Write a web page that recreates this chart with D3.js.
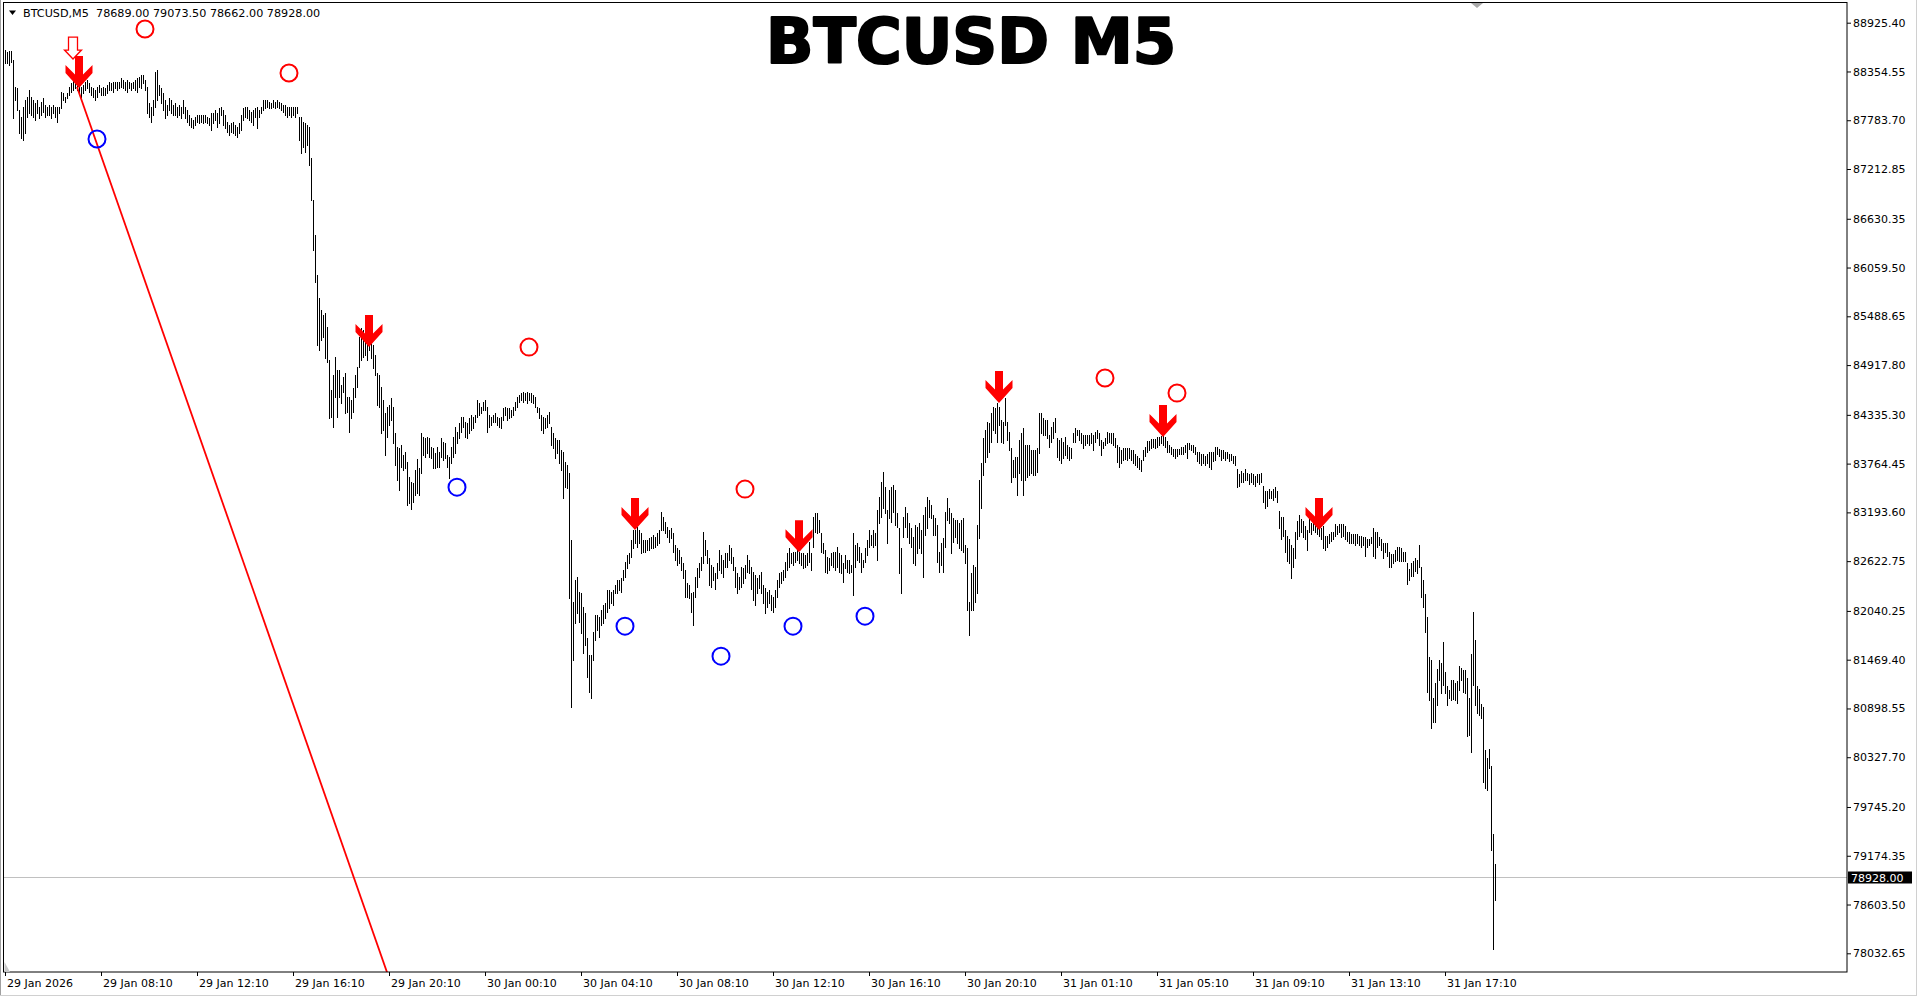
<!DOCTYPE html>
<html><head><meta charset="utf-8">
<script src="https://cdn.jsdelivr.net/npm/d3@7"></script>
<style>
html,body{margin:0;padding:0;background:#fff;overflow:hidden}
svg{display:block}
text{font-family:"DejaVu Sans",sans-serif}
</style></head><body>
<svg id="c" width="1919" height="997"></svg>
<script>
// ---- DATA ----
const symbol = "BTCUSD,M5";
const titleText = "BTCUSD M5";
const lastOHLC = ["78689.00", "79073.50", "78662.00", "78928.00"];
const lastClose = 78928.00;

const highs = [
88606,88583,88594,88594,88489,88173,88161,87903,87821,87938,
88020,88055,88137,88055,88020,87985,88020,87938,87997,88044,
87962,87938,87962,87938,87962,87938,87938,87938,88114,88102,
88055,88102,88173,88219,88255,88231,88231,88196,88173,88196,
88231,88255,88219,88173,88161,88137,88173,88196,88161,88173,
88161,88196,88231,88219,88231,88231,88231,88231,88278,88255,
88231,88255,88231,88219,88231,88255,88278,88290,88313,88313,
88255,88173,87985,87938,88020,88348,88372,88196,88161,88102,
88020,87962,88044,88020,87962,87985,87938,87962,87938,88020,
87938,87903,87844,87809,87786,87821,87844,87844,87844,87844,
87844,87821,87809,87868,87868,87903,87868,87926,87938,87903,
87844,87763,87727,87751,87763,87727,87704,87751,87844,87926,
87938,87938,87903,87880,87903,87926,87938,87903,87938,88020,
88020,88020,87997,87985,88020,87997,88020,87997,87985,87962,
87962,87938,87938,87938,87938,87938,87938,87821,87821,87763,
87751,87727,87704,87341,86850,86440,85971,85702,85562,85503,
85527,85363,84976,84625,84800,85011,84859,84859,84683,84777,
84824,84543,84543,84508,84648,84800,84894,85246,85351,85328,
85246,85363,85503,85210,85152,85035,84824,84800,84660,84508,
84356,84426,84450,84531,84426,84122,83958,83946,83981,83864,
83899,83782,83606,83548,83536,83688,83817,83712,84122,84075,
84063,84075,84063,83958,83946,83888,83958,83899,84063,84016,
84005,83864,83841,83958,84075,84192,84133,84239,84309,84309,
84250,84239,84297,84332,84309,84332,84508,84473,84426,84485,
84508,84426,84332,84309,84332,84356,84309,84297,84309,84414,
84426,84414,84414,84391,84426,84485,84543,84567,84590,84602,
84590,84602,84590,84590,84567,84543,84426,84414,84332,84309,
84297,84332,84368,84192,84122,84063,84040,84040,83923,83899,
83782,83747,83653,82869,82143,82401,82436,82260,82248,82084,
82014,81722,81522,81522,81792,81991,81991,81967,82049,82108,
82131,82283,82283,82260,82283,82342,82401,82401,82424,82518,
82611,82693,82717,82869,82986,82986,83021,82986,82951,82869,
82869,82869,82892,82904,82927,82904,82951,82986,83197,83138,
83080,83021,82986,83009,82951,82810,82775,82752,82670,82600,
82518,82366,82342,82248,82260,82436,82541,82600,82670,82963,
82869,82752,82658,82576,82553,82483,82600,82752,82693,82635,
82717,82717,82810,82775,82670,82553,82483,82436,82553,82541,
82576,82693,82635,82553,82494,82459,82424,82459,82494,82342,
82307,82260,82283,82225,82201,82283,82401,82483,82494,82518,
82611,82717,82775,82717,82728,82728,82752,82728,82717,82717,
82693,82717,82846,82717,83138,83185,83185,83103,82951,82834,
82752,82670,82658,82717,82728,82728,82787,82717,82693,82600,
82693,82635,82635,82576,82951,82810,82834,82787,82717,82635,
82775,82869,82986,82927,82986,82951,83220,83372,83548,83665,
83489,83220,83454,83489,83513,83454,83185,83009,82775,83138,
83255,83185,83068,83009,82904,83045,83021,83068,82986,83162,
83255,83372,83337,83279,83162,83127,83045,82728,82834,82892,
83197,83361,83244,83185,83127,83103,83103,83068,83103,83127,
82810,82775,82143,82483,82576,82553,83045,83571,83770,84063,
84157,84250,84239,84356,84426,84414,84473,84426,84274,84250,
84531,84250,84133,83946,83805,83841,83841,84040,84122,84180,
83981,83981,83981,83923,83923,83923,83946,84356,84356,84297,
84274,84274,84098,84192,84250,84297,84063,84040,84063,84016,
84075,83981,83958,83946,84122,84180,84157,84157,84122,84098,
84098,84098,84098,84122,84098,84133,84157,84122,84040,84016,
84063,84133,84122,84122,84122,84063,83981,83958,83923,83946,
83946,83946,83946,83923,83923,83876,83852,83829,83805,83923,
83958,84028,84028,84052,84052,84052,84075,84075,84087,84087,
84075,84028,83981,83958,83935,83935,83935,83935,83958,83958,
83981,84005,84005,83981,83981,83958,83899,83899,83876,83876,
83852,83876,83899,83899,83899,83958,83958,83935,83923,83923,
83899,83899,83876,83876,83852,83852,83700,83642,83677,83653,
83700,83653,83642,83653,83642,83618,83642,83642,83653,83501,
83443,83443,83466,83443,83466,83489,83443,83209,83138,83138,
82986,82916,82881,82810,82775,82963,83092,83162,83115,83092,
83033,82986,83115,83068,83092,83068,83033,83033,83009,83033,
82916,82916,82939,82963,82963,83056,83033,83056,83056,83056,
83033,82963,82963,82939,82939,82939,82939,82916,82916,82904,
82904,82881,82881,82904,83009,82963,82963,82904,82881,82834,
82834,82834,82728,82705,82705,82752,82787,82787,82775,82728,
82728,82600,82529,82600,82623,82658,82635,82810,82553,82401,
82236,81967,81499,81464,81019,81195,81359,81464,81429,81675,
81323,81160,81113,81230,81230,81195,81218,81394,81371,81347,
81347,81253,81019,81534,82026,81698,81160,81125,80949,80914,
80410,80317,80422,80223,79427,79073.5
];

const lows = [
88454,88454,88430,88466,87809,88020,87903,87634,87575,87552,
87634,87821,87868,87844,87821,87786,87868,87809,87844,87880,
87821,87844,87844,87809,87868,87821,87763,87868,87926,88020,
87997,88044,88079,88114,88137,88161,88137,88102,88055,88102,
88137,88161,88114,88079,88055,88020,88055,88114,88079,88079,
88079,88102,88137,88137,88114,88161,88137,88161,88173,88161,
88137,88114,88161,88137,88161,88137,88114,88173,88161,88219,
88137,87868,87821,87763,87844,87938,88020,88079,87985,87903,
87809,87844,87903,87868,87844,87844,87821,87844,87809,87868,
87809,87763,87727,87704,87692,87727,87763,87751,87763,87751,
87763,87751,87727,87669,87751,87786,87704,87751,87844,87727,
87692,87646,87610,87646,87634,87610,87587,87634,87669,87786,
87821,87809,87786,87763,87727,87821,87692,87821,87868,87903,
87926,87938,87926,87926,87938,87926,87938,87926,87903,87880,
87844,87821,87844,87821,87844,87821,87868,87552,87400,87470,
87412,87494,87259,86850,86264,85890,85152,85093,85210,85246,
84999,84953,84297,84309,84192,84543,84309,84543,84473,84602,
84356,84368,84133,84297,84368,84543,84660,84894,84976,85011,
85035,84976,85093,84999,84882,84800,84450,84426,84122,84157,
83864,84075,84215,84274,84005,83747,83571,83454,83723,83688,
83712,83279,83302,83232,83314,83396,83419,83396,83653,83864,
83841,83888,83841,83829,83712,83712,83723,83723,83841,83805,
83829,83723,83595,83770,83841,83888,84005,84063,84133,84192,
84075,84063,84122,84157,84180,84250,84309,84332,84356,84391,
84391,84133,84192,84215,84250,84250,84215,84192,84180,84274,
84332,84274,84297,84309,84332,84391,84426,84485,84508,84485,
84508,84473,84508,84485,84473,84426,84368,84297,84157,84122,
84180,84192,84239,83981,83946,83829,83888,83770,83688,83361,
83489,83478,82190,80914,81464,81897,82014,81909,81780,81546,
81640,81265,81089,81019,81464,81698,81815,81733,81874,81897,
81956,82026,82073,82131,82108,82248,82248,82283,82260,82401,
82436,82541,82600,82670,82775,82834,82787,82834,82717,82728,
82728,82752,82752,82775,82775,82787,82810,82834,82986,82986,
82951,82904,82846,82892,82728,82635,82576,82600,82518,82424,
82201,82201,82190,82026,81874,82201,82319,82436,82518,82600,
82693,82600,82342,82319,82401,82295,82424,82518,82483,82436,
82553,82553,82635,82600,82518,82319,82248,82295,82319,82366,
82424,82494,82483,82295,82166,82108,82248,82307,82248,82131,
82014,82084,82131,82049,82026,82084,82201,82319,82365,82401,
82436,82518,82553,82600,82576,82611,82635,82600,82576,82541,
82553,82576,82611,82518,82787,82963,82951,82963,82728,82717,
82494,82483,82518,82576,82553,82518,82553,82494,82483,82377,
82541,82494,82483,82494,82225,82553,82635,82611,82494,82553,
82611,82693,82787,82810,82787,82810,82635,83068,83138,83244,
83185,82834,83127,83080,83197,83045,83021,82483,82248,82904,
83021,82904,82834,82787,82600,82576,82717,82775,82717,82436,
82927,83009,83138,83127,82927,82927,82611,82494,82576,82494,
82787,83103,83068,82717,82846,82904,82834,82775,82752,82728,
82600,82049,81757,82049,82049,82143,82248,82892,83244,83630,
83782,83841,83899,84016,84157,84122,84016,84215,84016,84005,
84215,84040,83923,83548,83606,83606,83396,83653,83571,83396,
83571,83606,83630,83653,83630,83630,83665,83888,84122,84098,
84098,84063,83958,84016,84063,84133,83841,83805,83770,83829,
83864,83829,83805,83829,84016,84016,84098,84040,84005,83946,
83981,84005,83981,84005,83923,84016,84063,83981,83864,83946,
83981,84005,84016,84005,83981,83958,83782,83723,83770,83805,
83817,83805,83829,83805,83770,83747,83723,83700,83677,83805,
83852,83899,83923,83946,83958,83946,83958,83981,84005,83981,
83958,83899,83899,83876,83852,83829,83852,83876,83876,83876,
83899,83829,83935,83923,83899,83876,83794,83770,83747,83770,
83747,83770,83723,83700,83794,83805,83876,83852,83805,83829,
83805,83829,83794,83805,83770,83747,83489,83501,83548,83548,
83571,83571,83524,83548,83524,83501,83548,83524,83548,83314,
83244,83267,83361,83361,83337,83372,83314,83009,82881,82916,
82728,82623,82600,82424,82553,82658,82881,82916,82963,82904,
82881,82752,82963,82939,82986,82963,82939,82916,82881,82775,
82752,82787,82834,82857,82881,82916,82939,82963,82904,82916,
82881,82857,82834,82834,82834,82810,82834,82810,82787,82810,
82682,82787,82810,82834,82682,82658,82787,82810,82752,82658,
82728,82682,82553,82553,82600,82623,82635,82623,82623,82623,
82623,82354,82401,82447,82447,82506,82483,82553,82201,82084,
81792,81089,80996,80668,80738,80738,80937,81230,81078,81171,
81078,80937,81019,80996,81007,80996,80960,81113,81230,81089,
81078,80574,80586,80387,81171,80937,80843,80820,80785,80036,
79966,79942,80199,79239,78080,78662
];

const priceLabels = ["88925.40","88354.55","87783.70","87212.85","86630.35","86059.50",
  "85488.65","84917.80","84335.30","83764.45","83193.60","82622.75","82040.25","81469.40",
  "80898.55","80327.70","79745.20","79174.35","78603.50","78032.65"];
const dateLabels = ["29 Jan 2026","29 Jan 08:10","29 Jan 12:10","29 Jan 16:10","29 Jan 20:10",
  "30 Jan 00:10","30 Jan 04:10","30 Jan 08:10","30 Jan 12:10","30 Jan 16:10","30 Jan 20:10",
  "31 Jan 01:10","31 Jan 05:10","31 Jan 09:10","31 Jan 13:10","31 Jan 17:10"];
const barsPerDateLabel = 48;

// signals: bar index + price
const sellArrowBar   = [37, 182, 315, 397, 497, 579, 657];
const sellArrowPrice = [88161, 85128, 82986, 82728, 84473, 84075, 82986];
const hollowArrowBar = [34];
const hollowArrowPrice = [88500];
const redCircleBar   = [70, 142, 262, 370, 550, 586];
const redCirclePrice = [88852, 88337, 85128, 83466, 84766, 84590];
const blueCircleBar  = [46, 226, 310, 358, 394, 430];
const blueCirclePrice= [87564, 83489, 81862, 81511, 81862, 81979];
const trendBars   = [36, 191];
const trendPrices = [88173, 77811];

// ---- LAYOUT ----
const W = 1919, H = 997;
const plot = {left: 4, top: 2.5, right: 1847, bottom: 972};
const svg = d3.select("#c");

const x = d3.scaleLinear().domain([0, highs.length - 1]).range([5, 5 + 2 * (highs.length - 1)]);
const y = d3.scaleLinear().domain([78032.65, 88925.40]).range([953.3, 22.7]);

// window frame (light gray)
svg.append("rect").attr("x", 0).attr("y", 0).attr("width", W).attr("height", H).attr("fill", "#fff");
svg.append("line").attr("x1", 0.5).attr("x2", 0.5).attr("y1", 0).attr("y2", 995).attr("stroke", "#a0a0a0");
svg.append("line").attr("x1", 0).attr("x2", 1917).attr("y1", 995.5).attr("y2", 995.5).attr("stroke", "#d0d0d0");
svg.append("line").attr("x1", 1916.5).attr("x2", 1916.5).attr("y1", 0).attr("y2", 996).attr("stroke", "#d0d0d0");

svg.append("defs").append("clipPath").attr("id", "clip").append("rect")
  .attr("x", plot.left).attr("y", plot.top).attr("width", plot.right - plot.left).attr("height", plot.bottom - plot.top);

// current price line
svg.append("line").attr("x1", plot.left).attr("x2", plot.right)
  .attr("y1", Math.round(y(lastClose)) + 0.5).attr("y2", Math.round(y(lastClose)) + 0.5)
  .attr("stroke", "#c0c0c0").attr("stroke-width", 1);

// bars
const g = svg.append("g").attr("clip-path", "url(#clip)");
const bars = highs.map((h, i) => ({i, h, l: lows[i]}));
g.append("g").selectAll("line").data(bars).join("line")
  .attr("x1", d => x(d.i) + 0.5).attr("x2", d => x(d.i) + 0.5)
  .attr("y1", d => Math.round(y(d.h))).attr("y2", d => Math.round(y(d.l)) + 1)
  .attr("stroke", "#000").attr("stroke-width", 1).attr("shape-rendering", "crispEdges");

// trend line
g.append("line")
  .attr("x1", x(trendBars[0])).attr("y1", y(trendPrices[0]))
  .attr("x2", x(trendBars[1])).attr("y2", y(trendPrices[1]))
  .attr("stroke", "#ff0000").attr("stroke-width", 1.8);

// circles
g.append("g").selectAll("circle").data(redCircleBar).join("circle")
  .attr("cx", (d, i) => x(d)).attr("cy", (d, i) => y(redCirclePrice[i])).attr("r", 8.5)
  .attr("fill", "none").attr("stroke", "#ff0000").attr("stroke-width", 2);
g.append("g").selectAll("circle").data(blueCircleBar).join("circle")
  .attr("cx", (d, i) => x(d)).attr("cy", (d, i) => y(blueCirclePrice[i])).attr("r", 8.5)
  .attr("fill", "none").attr("stroke", "#0000ff").attr("stroke-width", 2);

// solid sell arrows (tip at price)
function solidArrow(cx, ty) {
  const p = [[0,0],[13.5,-15],[13.5,-23],[4,-13.5],[4,-32],[-4,-32],[-4,-13.5],[-13.5,-23],[-13.5,-15]];
  return "M" + p.map(q => (cx + q[0]) + "," + (ty + q[1])).join("L") + "Z";
}
function hollowArrow(cx, ty) {
  const p = [[0,0],[8.5,-9],[4.5,-9],[4.5,-22],[-4.5,-22],[-4.5,-9],[-8.5,-9]];
  return "M" + p.map(q => (cx + q[0]) + "," + (ty + q[1])).join("L") + "Z";
}
g.append("g").selectAll("path").data(sellArrowBar).join("path")
  .attr("d", (d, i) => solidArrow(x(d), y(sellArrowPrice[i])))
  .attr("fill", "#ff0000");
g.append("g").selectAll("path").data(hollowArrowBar).join("path")
  .attr("d", (d, i) => hollowArrow(x(d), y(hollowArrowPrice[i])))
  .attr("fill", "#fff").attr("stroke", "#ff0000").attr("stroke-width", 1.3);

// frame
svg.append("rect").attr("x", plot.left - 0.5).attr("y", plot.top).attr("width", plot.right - plot.left + 0.5)
  .attr("height", plot.bottom - plot.top).attr("fill", "none").attr("stroke", "#000").attr("stroke-width", 1);

// right price axis
const yAxis = d3.axisRight(y).tickValues(priceLabels.map(Number))
  .tickFormat((d, i) => priceLabels[i]).tickSize(4).tickPadding(2);
const ya = svg.append("g").attr("transform", `translate(${plot.right},0)`).call(yAxis);
ya.select(".domain").remove();
ya.selectAll("text").attr("font-family", "DejaVu Sans").attr("font-size", 11).attr("fill", "#000");

// last price label
const ly = Math.round(y(lastClose)) + 0.5;
svg.append("rect").attr("x", plot.right + 1).attr("y", ly - 6).attr("width", 64).attr("height", 12).attr("fill", "#000");
svg.append("text").attr("x", plot.right + 4).attr("y", ly + 4).attr("font-size", 11).attr("fill", "#fff")
  .text(lastOHLC[3]);

// bottom date axis
const xAxis = d3.axisBottom(x).tickValues(dateLabels.map((d, i) => i * barsPerDateLabel))
  .tickFormat((d, i) => dateLabels[i]).tickSize(4);
const xa = svg.append("g").attr("transform", `translate(0,${plot.bottom})`).call(xAxis);
xa.select(".domain").remove();
xa.selectAll("text").attr("text-anchor", "start").attr("x", 1.5).attr("y", 15).attr("dy", 0)
  .attr("font-family", "DejaVu Sans").attr("font-size", 11).attr("fill", "#000");

// small gray markers
svg.append("path").attr("d", "M1471,3L1483,3L1477,8Z").attr("fill", "#a8a8a8");
svg.append("path").attr("d", "M4.5,962L4.5,972L10,972Z").attr("fill", "#c8c8c8");

// header
svg.append("path").attr("d", "M9,10.5L16,10.5L12.5,15Z").attr("fill", "#000");
svg.append("text").attr("x", 23).attr("y", 17).attr("font-size", 11.2).attr("fill", "#000")
  .attr("xml:space", "preserve")
  .text(symbol + "  " + lastOHLC.join(" "));

// title (heavy, wide)
svg.append("text").attr("x", 971).attr("y", 63).attr("text-anchor", "middle")
  .attr("font-family", "DejaVu Sans").attr("font-weight", "bold").attr("font-size", 62)
  .attr("textLength", 410).attr("lengthAdjust", "spacingAndGlyphs")
  .attr("fill", "#000").attr("stroke", "#000").attr("stroke-width", 2.2).attr("stroke-linejoin", "round")
  .text(titleText);
</script>
</body></html>
